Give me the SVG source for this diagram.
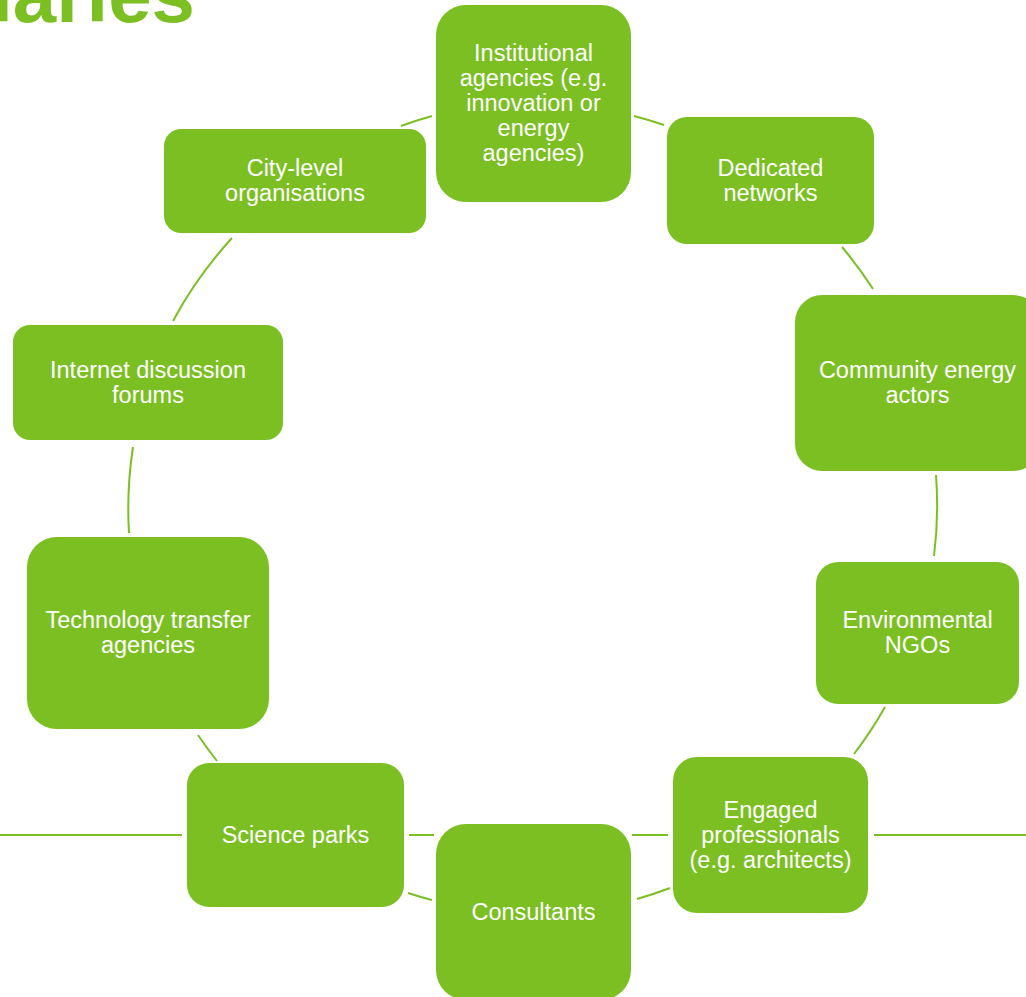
<svg xmlns="http://www.w3.org/2000/svg" width="1026" height="997" viewBox="0 0 1026 997">
  <style>
    .box { fill: #7BBF23; }
    .lbl { fill: #FFFFFF; font-family: "Liberation Sans", Arial, sans-serif; font-size: 23.5px; text-anchor: middle; }
    .link { fill: none; stroke: #7BBF23; stroke-width: 2; }
    .title { fill: #7BBF23; font-family: "Liberation Sans", Arial, sans-serif; font-weight: bold; font-size: 78px; text-anchor: end; }
  </style>
  <rect width="1026" height="997" fill="#FFFFFF"/>

  <text class="title" x="195" y="22">iaries</text>

  <!-- ring connectors and horizontal guides -->
  <g id="connectors">
    <path class="link" d="M401,126 A405,405 0 0 1 432,116"/>
    <path class="link" d="M634,116 A405,405 0 0 1 664,125"/>
    <path class="link" d="M842,247 A405,405 0 0 1 873,289"/>
    <path class="link" d="M936,475 A405,405 0 0 1 934,556"/>
    <path class="link" d="M885,707 A405,405 0 0 1 854,754"/>
    <path class="link" d="M670,888 A405,405 0 0 1 637,899"/>
    <path class="link" d="M432,900 A405,405 0 0 1 408,893"/>
    <path class="link" d="M217,761 A405,405 0 0 1 198,735"/>
    <path class="link" d="M129,533 A405,405 0 0 1 133,447"/>
    <path class="link" d="M173,321 A405,405 0 0 1 232,238"/>
    <line class="link" x1="0" y1="835" x2="182" y2="835"/>
    <line class="link" x1="409" y1="835" x2="434" y2="835"/>
    <line class="link" x1="632" y1="835" x2="668" y2="835"/>
    <line class="link" x1="874" y1="835" x2="1026" y2="835"/>
  </g>

  <g id="institutional">
    <rect class="box" x="436" y="5" width="195" height="197" rx="30"/>
    <text class="lbl" x="533.5" y="61">Institutional</text>
    <text class="lbl" x="533.5" y="86">agencies (e.g.</text>
    <text class="lbl" x="533.5" y="111">innovation or</text>
    <text class="lbl" x="533.5" y="136">energy</text>
    <text class="lbl" x="533.5" y="161">agencies)</text>
  </g>

  <g id="dedicated">
    <rect class="box" x="667" y="117" width="207" height="127" rx="20"/>
    <text class="lbl" x="770.5" y="175.5">Dedicated</text>
    <text class="lbl" x="770.5" y="200.5">networks</text>
  </g>

  <g id="community">
    <rect class="box" x="795" y="295" width="245" height="176" rx="27"/>
    <text class="lbl" x="917.5" y="377.5">Community energy</text>
    <text class="lbl" x="917.5" y="402.5">actors</text>
  </g>

  <g id="ngos">
    <rect class="box" x="816" y="562" width="203" height="142" rx="22"/>
    <text class="lbl" x="917.5" y="627.5">Environmental</text>
    <text class="lbl" x="917.5" y="652.5">NGOs</text>
  </g>

  <g id="professionals">
    <rect class="box" x="673" y="757" width="195" height="156" rx="24"/>
    <text class="lbl" x="770.5" y="818">Engaged</text>
    <text class="lbl" x="770.5" y="843">professionals</text>
    <text class="lbl" x="770.5" y="868">(e.g. architects)</text>
  </g>

  <g id="consultants">
    <rect class="box" x="436" y="824" width="195" height="176" rx="30"/>
    <text class="lbl" x="533.5" y="920">Consultants</text>
  </g>

  <g id="science-parks">
    <rect class="box" x="187" y="763" width="217" height="144" rx="22"/>
    <text class="lbl" x="295.5" y="843">Science parks</text>
  </g>

  <g id="tech-transfer">
    <rect class="box" x="27" y="537" width="242" height="192" rx="30"/>
    <text class="lbl" x="148" y="628">Technology transfer</text>
    <text class="lbl" x="148" y="653">agencies</text>
  </g>

  <g id="internet-forums">
    <rect class="box" x="13" y="325" width="270" height="115" rx="17"/>
    <text class="lbl" x="148" y="377.5">Internet discussion</text>
    <text class="lbl" x="148" y="402.5">forums</text>
  </g>

  <g id="city-level">
    <rect class="box" x="164" y="129" width="262" height="104" rx="17"/>
    <text class="lbl" x="295" y="175.5">City-level</text>
    <text class="lbl" x="295" y="200.5">organisations</text>
  </g>
</svg>
